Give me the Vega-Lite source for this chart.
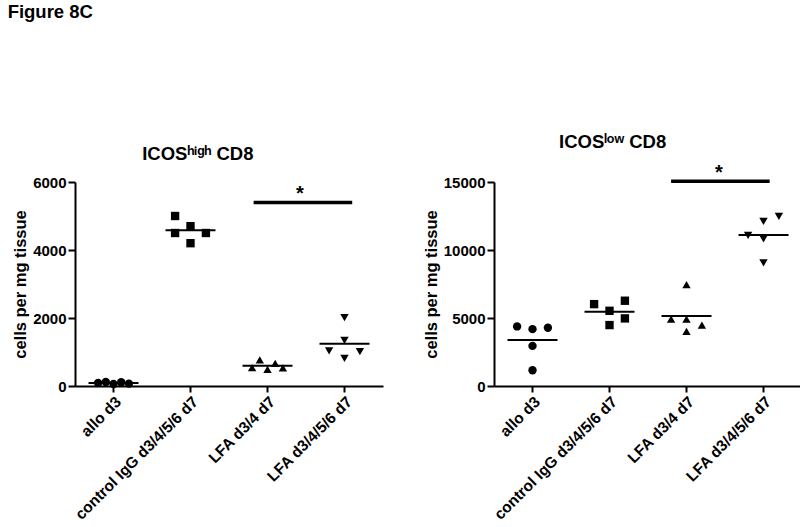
{
  "$schema": "https://vega.github.io/schema/vega-lite/v6.json",
  "background": "white",
  "padding": {"left": 7, "top": 3, "right": 0, "bottom": 0},
  "title": {"text": "Figure 8C", "anchor": "start", "dx": -5, "fontSize": 18.5, "fontWeight": "bold", "offset": 111, "color": "black"},
  "config": {
    "font": "Liberation Sans",
    "view": {"stroke": null},
    "axis": {"domainColor": "black", "domainWidth": 2, "tickColor": "black", "tickWidth": 2, "tickSize": 7, "labelPadding": 2, "labelColor": "black", "labelFont": "Liberation Sans", "labelFontSize": 15, "labelFontWeight": "bold", "titleColor": "black", "titleFont": "Liberation Sans", "titleFontSize": 16.5, "titleFontWeight": "bold", "titlePadding": 4, "grid": false},
    "axisY": {"format": "d"},
    "axisX": {"labelAngle": -45, "bandPosition": 0.5, "tickSize": 6, "labelFontSize": 15.5},
    "title": {"font": "Liberation Sans", "fontSize": 18.5, "fontWeight": "bold", "color": "black", "frame": "bounds", "offset": 12}
  },
  "datasets": {
    "high": [
      {"group": "allo d3", "slot": -2, "value": 90},
      {"group": "allo d3", "slot": -1, "value": 120},
      {"group": "allo d3", "slot": 0, "value": 60},
      {"group": "allo d3", "slot": 1, "value": 110},
      {"group": "allo d3", "slot": 2, "value": 70},
      {"group": "control IgG d3/4/5/6 d7", "slot": -2, "value": 5000},
      {"group": "control IgG d3/4/5/6 d7", "slot": -2, "value": 4500},
      {"group": "control IgG d3/4/5/6 d7", "slot": 0, "value": 4700},
      {"group": "control IgG d3/4/5/6 d7", "slot": 0, "value": 4200},
      {"group": "control IgG d3/4/5/6 d7", "slot": 2, "value": 4500},
      {"group": "LFA d3/4 d7", "slot": -2, "value": 540},
      {"group": "LFA d3/4 d7", "slot": -1, "value": 765},
      {"group": "LFA d3/4 d7", "slot": 0, "value": 490},
      {"group": "LFA d3/4 d7", "slot": 1, "value": 667},
      {"group": "LFA d3/4 d7", "slot": 2, "value": 530},
      {"group": "LFA d3/4/5/6 d7", "slot": 0, "value": 2010},
      {"group": "LFA d3/4/5/6 d7", "slot": 0, "value": 1343},
      {"group": "LFA d3/4/5/6 d7", "slot": -2, "value": 1030},
      {"group": "LFA d3/4/5/6 d7", "slot": 2, "value": 1010},
      {"group": "LFA d3/4/5/6 d7", "slot": 0, "value": 814}
    ],
    "low": [
      {"group": "allo d3", "slot": -2, "value": 4380},
      {"group": "allo d3", "slot": 0, "value": 4180},
      {"group": "allo d3", "slot": 2, "value": 4280},
      {"group": "allo d3", "slot": 0, "value": 2950},
      {"group": "allo d3", "slot": 0, "value": 1160},
      {"group": "control IgG d3/4/5/6 d7", "slot": -2, "value": 6020},
      {"group": "control IgG d3/4/5/6 d7", "slot": 2, "value": 6270},
      {"group": "control IgG d3/4/5/6 d7", "slot": 0, "value": 5530},
      {"group": "control IgG d3/4/5/6 d7", "slot": 2, "value": 4970},
      {"group": "control IgG d3/4/5/6 d7", "slot": 0, "value": 4480},
      {"group": "LFA d3/4 d7", "slot": 0, "value": 7450},
      {"group": "LFA d3/4 d7", "slot": -2, "value": 4920},
      {"group": "LFA d3/4 d7", "slot": 0, "value": 4920},
      {"group": "LFA d3/4 d7", "slot": 2, "value": 4480},
      {"group": "LFA d3/4 d7", "slot": 0, "value": 4010},
      {"group": "LFA d3/4/5/6 d7", "slot": 2, "value": 12470},
      {"group": "LFA d3/4/5/6 d7", "slot": 0, "value": 12100},
      {"group": "LFA d3/4/5/6 d7", "slot": -2, "value": 11070},
      {"group": "LFA d3/4/5/6 d7", "slot": 0, "value": 10820},
      {"group": "LFA d3/4/5/6 d7", "slot": 0, "value": 9050}
    ],
    "sigHigh": [{"from": "LFA d3/4 d7", "to": "LFA d3/4/5/6 d7", "y": 5400, "star": 5460}],
    "sigLow": [{"from": "LFA d3/4 d7", "to": "LFA d3/4/5/6 d7", "y": 15050, "star": 15200}]
  },
  "spacing": 40,
  "hconcat": [
    {
      "width": 308,
      "height": 204,
      "title": {"text": "ICOSʰⁱᵍʰ CD8"},
      "layer": [
        {
          "data": {"name": "high"},
          "mark": {"type": "point", "filled": true, "size": 70, "opacity": 1, "color": "black"},
          "encoding": {
            "x": {"field": "group", "type": "nominal", "sort": null, "scale": {"type": "band", "domain": ["allo d3", "control IgG d3/4/5/6 d7", "LFA d3/4 d7", "LFA d3/4/5/6 d7"], "paddingInner": 0.6, "paddingOuter": 0.3}, "axis": {"title": null}},
            "xOffset": {"field": "slot", "type": "ordinal", "scale": {"domain": [-2, -1, 0, 1, 2], "paddingInner": 0, "paddingOuter": 0}},
            "y": {"field": "value", "type": "quantitative", "scale": {"domain": [0, 6000], "nice": false}, "axis": {"values": [0, 2000, 4000, 6000], "title": "cells per mg tissue"}},
            "shape": {"field": "group", "type": "nominal", "scale": {"domain": ["allo d3", "control IgG d3/4/5/6 d7", "LFA d3/4 d7", "LFA d3/4/5/6 d7"], "range": ["circle", "square", "triangle-up", "triangle-down"]}, "legend": null}
          }
        },
        {
          "data": {"name": "high"},
          "mark": {"type": "tick", "color": "black", "size": 50, "thickness": 2},
          "encoding": {
            "x": {"field": "group", "type": "nominal", "title": null},
            "y": {"aggregate": "mean", "field": "value", "type": "quantitative"}
          }
        },
        {
          "data": {"name": "sigHigh"},
          "mark": {"type": "rule", "color": "black", "strokeWidth": 3.5},
          "encoding": {
            "x": {"field": "from", "type": "nominal", "bandPosition": 0.05, "title": null},
            "x2": {"field": "to", "bandPosition": 0.75},
            "y": {"field": "y", "type": "quantitative"}
          }
        },
        {
          "data": {"name": "sigHigh"},
          "mark": {"type": "text", "text": "*", "fontSize": 20, "fontWeight": "bold", "baseline": "alphabetic", "color": "black"},
          "encoding": {
            "x": {"field": "from", "type": "nominal", "bandPosition": 1.55, "title": null},
            "y": {"field": "star", "type": "quantitative"}
          }
        }
      ]
    },
    {
      "width": 308,
      "height": 204,
      "title": {"text": "ICOSˡᵒʷ CD8"},
      "layer": [
        {
          "data": {"name": "low"},
          "mark": {"type": "point", "filled": true, "size": 70, "opacity": 1, "color": "black"},
          "encoding": {
            "x": {"field": "group", "type": "nominal", "sort": null, "scale": {"type": "band", "domain": ["allo d3", "control IgG d3/4/5/6 d7", "LFA d3/4 d7", "LFA d3/4/5/6 d7"], "paddingInner": 0.6, "paddingOuter": 0.3}, "axis": {"title": null}},
            "xOffset": {"field": "slot", "type": "ordinal", "scale": {"domain": [-2, -1, 0, 1, 2], "paddingInner": 0, "paddingOuter": 0}},
            "y": {"field": "value", "type": "quantitative", "scale": {"domain": [0, 15000], "nice": false}, "axis": {"values": [0, 5000, 10000, 15000], "title": "cells per mg tissue"}},
            "shape": {"field": "group", "type": "nominal", "scale": {"domain": ["allo d3", "control IgG d3/4/5/6 d7", "LFA d3/4 d7", "LFA d3/4/5/6 d7"], "range": ["circle", "square", "triangle-up", "triangle-down"]}, "legend": null}
          }
        },
        {
          "data": {"name": "low"},
          "mark": {"type": "tick", "color": "black", "size": 50, "thickness": 2},
          "encoding": {
            "x": {"field": "group", "type": "nominal", "title": null},
            "y": {"aggregate": "mean", "field": "value", "type": "quantitative"}
          }
        },
        {
          "data": {"name": "sigLow"},
          "mark": {"type": "rule", "color": "black", "strokeWidth": 3.5},
          "encoding": {
            "x": {"field": "from", "type": "nominal", "bandPosition": 0, "title": null},
            "x2": {"field": "to", "bandPosition": 0.7},
            "y": {"field": "y", "type": "quantitative"}
          }
        },
        {
          "data": {"name": "sigLow"},
          "mark": {"type": "text", "text": "*", "fontSize": 20, "fontWeight": "bold", "baseline": "alphabetic", "color": "black"},
          "encoding": {
            "x": {"field": "from", "type": "nominal", "bandPosition": 1.55, "title": null},
            "y": {"field": "star", "type": "quantitative"}
          }
        }
      ]
    }
  ]
}
